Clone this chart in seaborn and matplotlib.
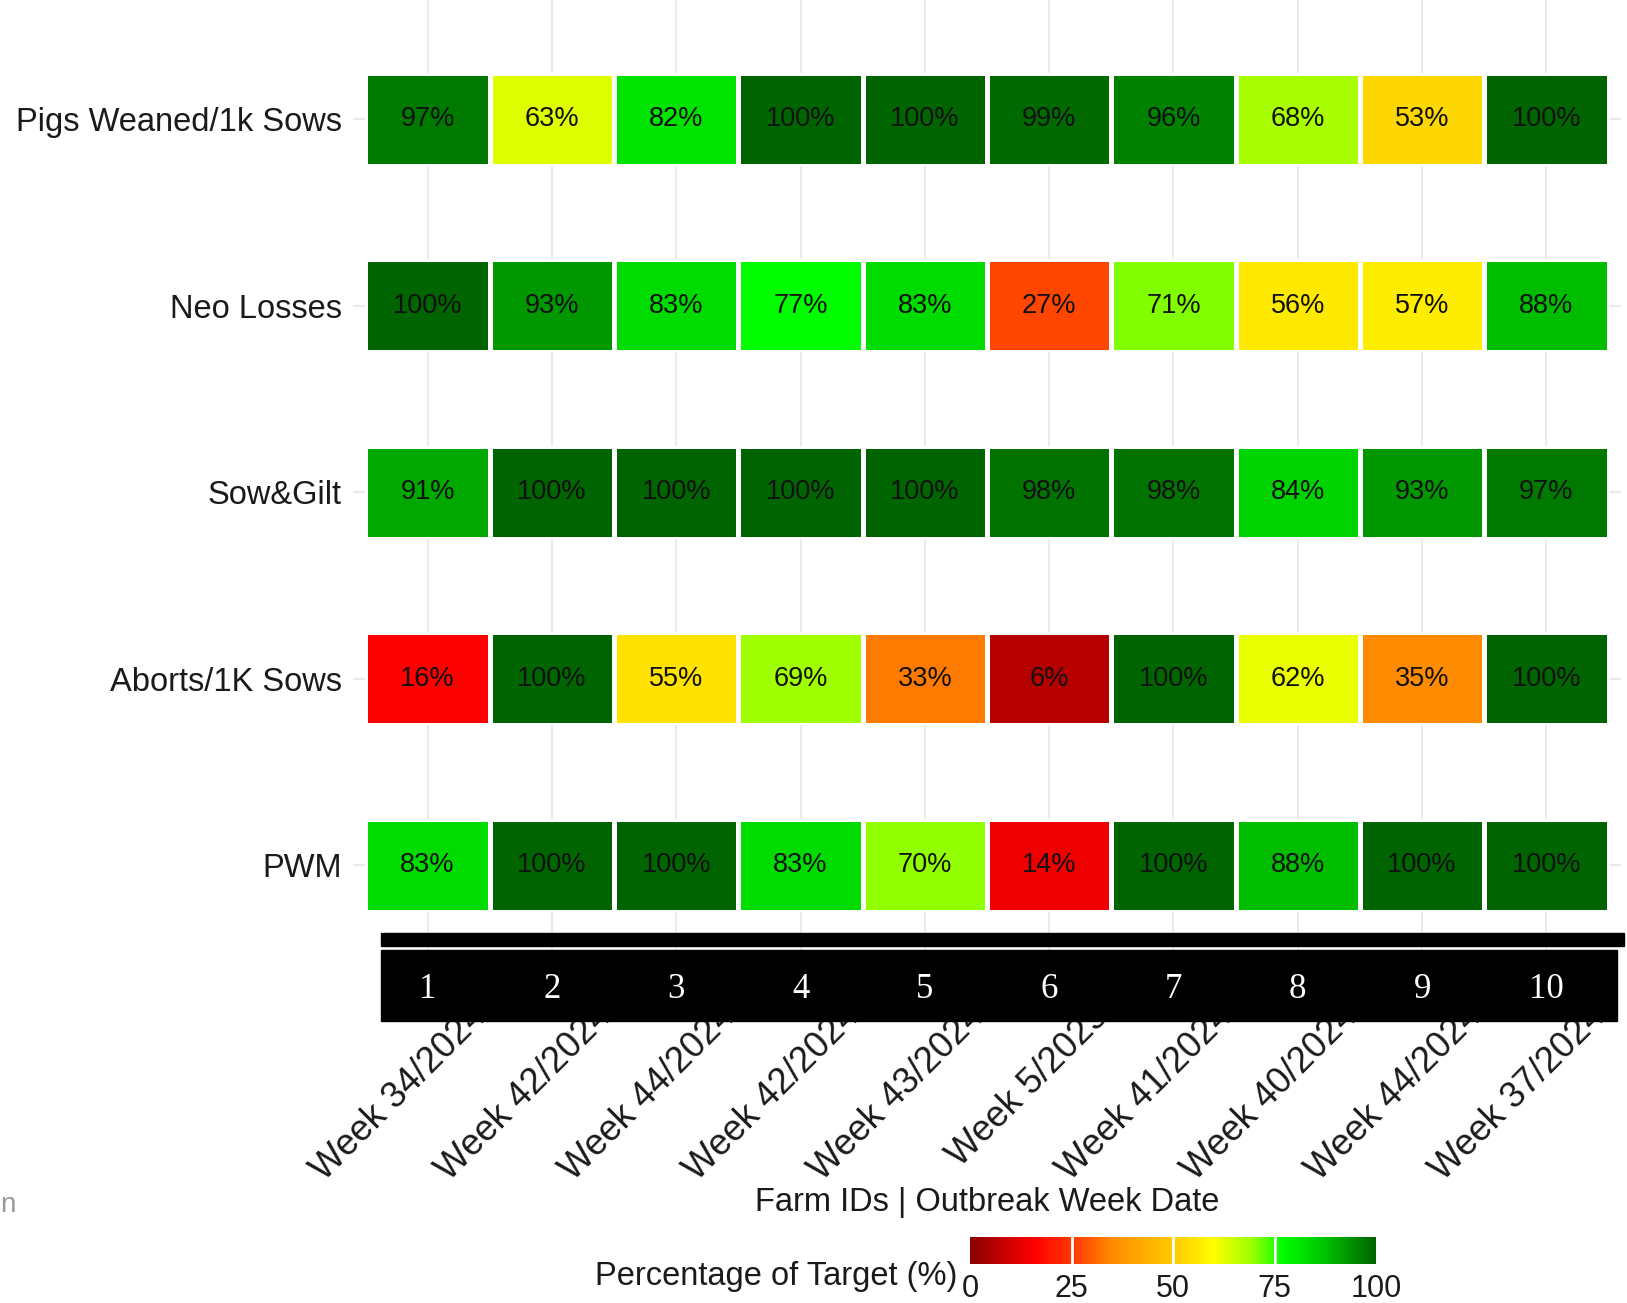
import numpy as np
import pandas as pd
import matplotlib
matplotlib.use("Agg")
import matplotlib.pyplot as plt
import seaborn as sns
from matplotlib.colors import LinearSegmentedColormap
from matplotlib.transforms import ScaledTranslation, blended_transform_factory
from matplotlib.patches import Rectangle

# ---------------- data ----------------
metrics = ["Pigs Weaned/1k Sows", "Neo Losses", "Sow&Gilt", "Aborts/1K Sows", "PWM"]
farm_ids = ["1", "2", "3", "4", "5", "6", "7", "8", "9", "10"]
week_labels = ["Week 34/2024", "Week 42/2024", "Week 44/2024", "Week 42/2024",
               "Week 43/2024", "Week 5/2025", "Week 41/2024", "Week 40/2024",
               "Week 44/2024", "Week 37/2024"]
pigs_weaned = [97, 63, 82, 100, 100, 99, 96, 68, 53, 100]
neo_losses = [100, 93, 83, 77, 83, 27, 71, 56, 57, 88]
sow_gilt = [91, 100, 100, 100, 100, 98, 98, 84, 93, 97]
aborts = [16, 100, 55, 69, 33, 6, 100, 62, 35, 100]
pwm = [83, 100, 100, 83, 70, 14, 100, 88, 100, 100]
cbar_ticks = [0, 25, 50, 75, 100]
x_title = "Farm IDs | Outbreak Week Date"
legend_title = "Percentage of Target (%)"

rows = [pigs_weaned, neo_losses, sow_gilt, aborts, pwm]

# colour scale
cmap = LinearSegmentedColormap.from_list("target", [
    (0.00, "#8B0000"), (0.16, "#FF0000"), (0.27, "#FF4500"), (0.35, "#FF8C00"),
    (0.53, "#FFD700"), (0.60, "#FFFF00"), (0.70, "#96FF00"), (0.77, "#00FF00"),
    (0.88, "#00BF00"), (1.00, "#006400")])

# ---------------- figure ----------------
sns.set_theme(style="white")
plt.rcParams["font.family"] = ["Liberation Sans", "DejaVu Sans"]

W, H = 1627, 1303
fig = plt.figure(figsize=(W / 100, H / 100), dpi=100)
fig.patch.set_facecolor("white")

# main panel (gridlines, axis labels)
ax = fig.add_axes([353 / W, 1 - 977 / H, (1621 - 353) / W, 977 / H])
n = len(metrics)
ax.set_xlim(-0.6, len(farm_ids) - 0.4)
ax.set_ylim(-0.6, n - 1 + 0.64)
ax.set_xticks(range(len(farm_ids)))
ax.set_yticks([n - 1 - i for i in range(n)])
ax.set_yticklabels(metrics, fontsize=23.5, color="#1a1a1a")
ax.set_xticklabels(week_labels, rotation=45, ha="right", va="top",
                   rotation_mode="anchor", fontsize=26, color="#1a1a1a")
ax.tick_params(axis="both", length=0)
ax.tick_params(axis="y", pad=8)
ax.tick_params(axis="x", pad=2)
for lab in ax.get_xticklabels():
    lab.set_transform(lab.get_transform() + ScaledTranslation(0.42, -0.19, fig.dpi_scale_trans))
ax.grid(True, color="#EBEBEB", lw=1.5)
for s in ax.spines.values():
    s.set_visible(False)
ax.set_facecolor("white")

# tiles: one seaborn heatmap strip per metric
for i, vals in enumerate(rows):
    yc = n - 1 - i
    sub = ax.inset_axes([-0.5, yc - 0.25, len(farm_ids), 0.5], transform=ax.transData)
    df = pd.DataFrame([vals], columns=farm_ids, index=[metrics[i]])
    annot = np.array([[f"{v}%" for v in vals]])
    kw = dict(cmap=cmap, vmin=0, vmax=100, annot=annot, fmt="",
              annot_kws={"size": 19.5, "color": "#111111"},
              linewidths=2.5, linecolor="white",
              xticklabels=False, yticklabels=False)
    if i == 0:
        cax = fig.add_axes([970 / W, 1 - 1264 / H, 406 / W, 27 / H])
        sns.heatmap(df, ax=sub, cbar=True, cbar_ax=cax,
                    cbar_kws={"orientation": "horizontal", "ticks": cbar_ticks}, **kw)
    else:
        sns.heatmap(df, ax=sub, cbar=False, **kw)
    sub.set_xlabel("")
    sub.set_ylabel("")

# colourbar styling
for s in cax.spines.values():
    s.set_visible(False)
cax.tick_params(axis="x", length=0, pad=7, labelsize=22, labelcolor="#1a1a1a")
for v in cbar_ticks[1:-1]:
    cax.axvline(v, color="white", lw=2)

# black farm-id band (overlay)
band = fig.add_axes([0, 0, 1, 1], zorder=5)
band.set_xlim(0, W)
band.set_ylim(H, 0)
band.axis("off")
band.patch.set_alpha(0)
band.add_patch(Rectangle((381, 933), 1624 - 381, 13, color="black"))
band.add_patch(Rectangle((381, 950), 1617 - 381, 71, color="black"))
trans = blended_transform_factory(ax.transData, band.transData)
for j, fid in enumerate(farm_ids):
    band.text(j, 989, fid, transform=trans, ha="center", va="center",
              color="white", fontsize=25, family=["Liberation Serif", "DejaVu Serif"])

# titles
fig.text(987 / W, 1 - 1203 / H, x_title, ha="center", va="center", fontsize=23.5, color="#1a1a1a")
fig.text(957 / W, 1 - 1276 / H, legend_title, ha="right", va="center", fontsize=23.5, color="#1a1a1a")
fig.text(0.0, 1 - 1205 / H, "n", ha="left", va="center", fontsize=20, color="#9a9a9a")

fig.savefig("out.png", dpi=100, facecolor="white")
